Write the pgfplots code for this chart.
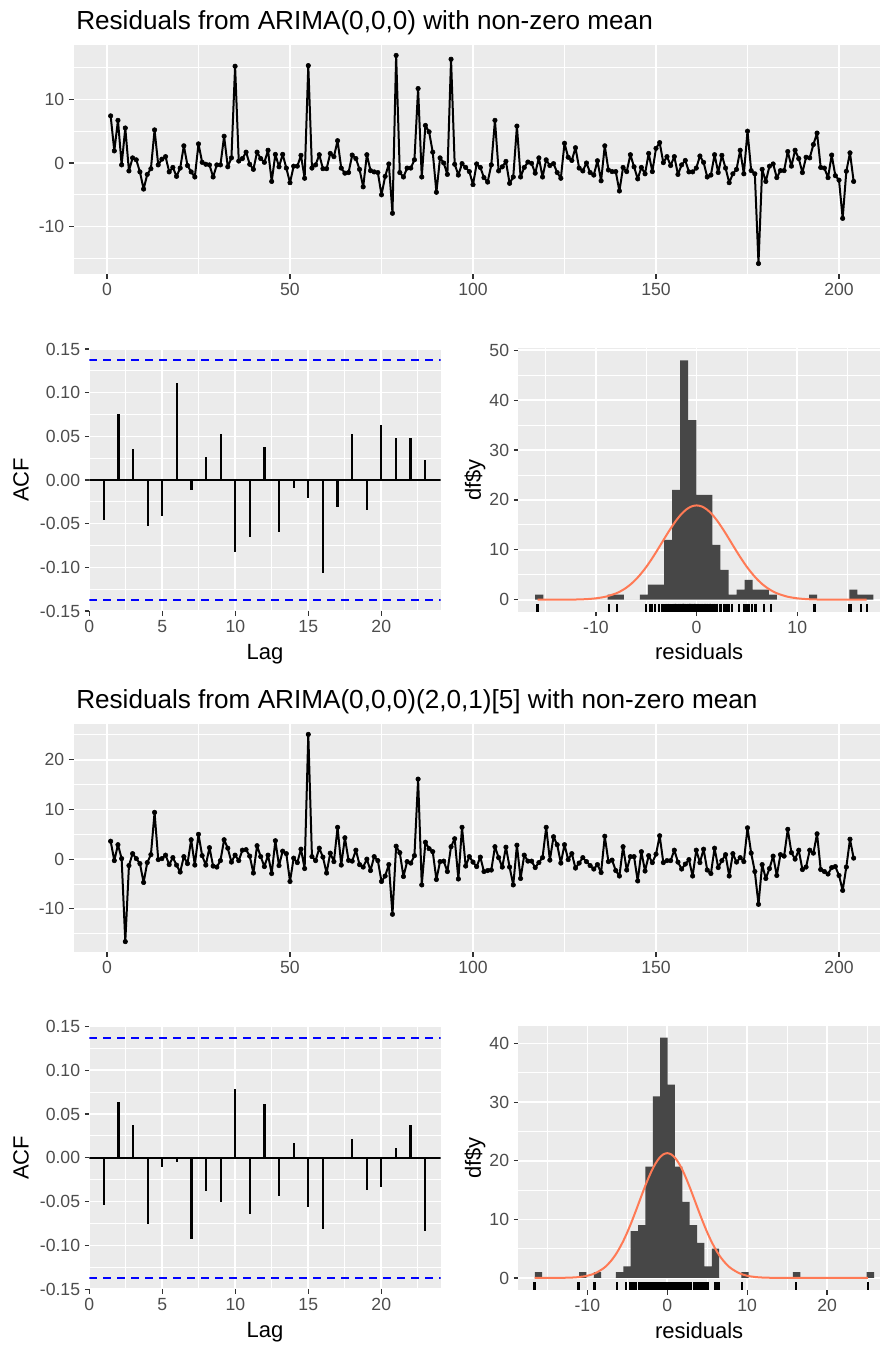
\documentclass[border=0pt]{standalone}
\usepackage{fontspec}
\setmainfont{Liberation Sans}
\usepackage{pgfplots}
\pgfplotsset{compat=1.18}
\usepackage{pgfplotstable}
\definecolor{ggbg}{HTML}{EBEBEB}
\definecolor{ggtext}{HTML}{4D4D4D}
\definecolor{ggtick}{HTML}{333333}
\definecolor{histfill}{HTML}{474747}
\definecolor{normline}{HTML}{FF7A55}
\definecolor{ciblue}{HTML}{0000FF}
\newcommand\ticksz{\fontsize{13.2}{15}\selectfont}
\newcommand\labsz{\fontsize{16.5}{19}\selectfont}
\newcommand\titsz{\fontsize{19.6}{22}\selectfont}

\pgfplotstableread{
t r
1 7.4
2 1.9
3 6.7
4 -0.3
5 5.5
6 -1.25
7 0.8
8 0.5
9 -1.4
10 -4.1
11 -1.8
12 -0.9
13 5.2
14 -0.3
15 0.6
16 1.0
17 -1.4
18 -0.7
19 -2.1
20 -0.8
21 2.7
22 -0.4
23 -1.4
24 -2.2
25 3.0
26 0.1
27 -0.2
28 -0.3
29 -2.2
30 -0.3
31 -0.3
32 4.2
33 -0.6
34 0.8
35 15.2
36 0.3
37 0.7
38 1.7
39 -0.2
40 -1.0
41 1.7
42 0.7
43 0.1
44 2.0
45 -2.9
46 1.35
47 -0.6
48 1.35
49 -0.8
50 -3.1
51 -0.5
52 -0.5
53 1.2
54 -2.4
55 15.3
56 -0.8
57 -0.3
58 1.3
59 -0.9
60 -0.9
61 1.5
62 1.0
63 3.5
64 -0.8
65 -1.6
66 -1.5
67 1.25
68 0.7
69 -1.0
70 -3.75
71 1.3
72 -1.2
73 -1.4
74 -1.5
75 -5.0
76 -2.1
77 -0.15
78 -7.9
79 16.9
80 -1.5
81 -2.2
82 -0.8
83 -0.8
84 0.5
85 11.7
86 -2.2
87 5.9
88 4.9
89 1.7
90 -4.6
91 0.8
92 0.0
93 -1.8
94 16.3
95 -0.2
96 -1.9
97 -0.1
98 -0.7
99 -1.35
100 -3.4
101 -0.15
102 -0.7
103 -2.3
104 -3.0
105 -0.3
106 6.7
107 -1.25
108 -0.6
109 0.25
110 -3.2
111 -2.2
112 5.8
113 -2.2
114 -0.7
115 0.15
116 -0.05
117 -1.6
118 0.8
119 -2.2
120 0.5
121 -0.4
122 -0.1
123 -1.5
124 -2.4
125 3.1
126 0.9
127 0.4
128 2.4
129 -0.8
130 -1.25
131 0.0
132 -1.5
133 -1.9
134 0.35
135 -2.8
136 2.7
137 -1.1
138 -1.35
139 -1.35
140 -4.4
141 -0.7
142 -1.35
143 1.3
144 -0.6
145 -2.5
146 -0.7
147 -1.7
148 1.5
149 -1.35
150 2.3
151 3.2
152 0.05
153 1.0
154 -0.4
155 1.0
156 -1.8
157 -0.3
158 0.4
159 -1.4
160 -1.4
161 -0.8
162 1.1
163 0.1
164 -2.2
165 -1.9
166 1.3
167 -1.5
168 1.2
169 -0.8
170 -3.1
171 -1.7
172 -1.0
173 2.0
174 -1.7
175 5.0
176 -1.2
177 -1.7
178 -15.8
179 -1.0
180 -2.9
181 -0.5
182 -0.15
183 -2.3
184 -1.2
185 -1.2
186 1.8
187 -0.5
188 2.0
189 0.7
190 -1.5
191 0.9
192 0.8
193 2.9
194 4.7
195 -0.7
196 -0.8
197 -2.3
198 1.25
199 -2.0
200 -2.7
201 -8.7
202 -1.3
203 1.6
204 -2.9
}\resA

\pgfplotstableread{
t r
1 3.6
2 -0.3
3 2.9
4 0.1
5 -16.6
6 -1.3
7 1.1
8 0.1
9 -0.9
10 -4.7
11 -0.7
12 0.9
13 9.4
14 -0.1
15 0.1
16 0.8
17 -1.1
18 0.3
19 -1.2
20 -2.6
21 0.5
22 -0.9
23 3.9
24 -1.2
25 5.0
26 0.7
27 -1.2
28 2.3
29 -1.4
30 -1.6
31 -0.3
32 3.9
33 2.2
34 -0.6
35 0.8
36 -0.3
37 1.8
38 1.9
39 0.6
40 -2.8
41 2.7
42 0.5
43 -1.5
44 0.8
45 -2.9
46 3.7
47 -1.3
48 1.6
49 1.1
50 -4.5
51 0.2
52 -0.7
53 2.0
54 -1.9
55 25.1
56 0.5
57 -0.3
58 2.2
59 0.4
60 -2.8
61 1.2
62 -0.5
63 6.4
64 -1.2
65 4.3
66 -0.25
67 -0.4
68 1.8
69 -1.1
70 -1.6
71 0.0
72 -2.3
73 0.5
74 -0.3
75 -4.5
76 -3.4
77 -1.1
78 -11.1
79 2.6
80 1.3
81 -3.5
82 -0.5
83 -0.8
84 0.7
85 16.1
86 -5.2
87 3.4
88 2.1
89 1.5
90 -4.1
91 -0.5
92 -0.4
93 -2.5
94 2.5
95 4.1
96 -4.0
97 6.4
98 -1.4
99 0.5
100 -0.6
101 -1.5
102 0.4
103 -2.5
104 -2.3
105 -2.2
106 2.5
107 0.3
108 -1.6
109 2.4
110 -1.6
111 -5.2
112 2.8
113 -3.9
114 0.8
115 -0.4
116 -0.4
117 -1.7
118 -0.7
119 0.3
120 6.4
121 -0.2
122 4.5
123 2.9
124 -0.8
125 2.9
126 -0.1
127 1.1
128 -1.8
129 -0.8
130 0.3
131 -0.5
132 -1.3
133 -2.0
134 -1.1
135 -2.7
136 4.6
137 -0.5
138 -0.2
139 -2.3
140 -3.4
141 2.5
142 -2.2
143 0.5
144 0.5
145 -4.4
146 1.5
147 -2.4
148 0.7
149 -0.7
150 1.0
151 4.7
152 -0.7
153 -0.3
154 -0.3
155 1.8
156 -0.6
157 -2.0
158 -1.0
159 -0.1
160 -3.4
161 1.8
162 -0.7
163 2.0
164 -2.2
165 -2.9
166 2.2
167 -1.7
168 -0.3
169 0.9
170 -3.4
171 1.1
172 -0.6
173 0.3
174 -0.5
175 6.3
176 1.2
177 -2.5
178 -9.1
179 -1.1
180 -3.9
181 -1.9
182 0.6
183 -3.3
184 0.9
185 0.6
186 6.0
187 1.3
188 0.0
189 1.8
190 -2.1
191 -1.6
192 1.8
193 1.2
194 5.1
195 -2.1
196 -2.5
197 -3.0
198 -1.7
199 -1.5
200 -3.3
201 -6.3
202 -1.6
203 4.0
204 0.2
}\resB

\pgfplotsset{
  gg/.style={
    scale only axis,
    anchor=south west,
    axis background/.style={fill=ggbg},
    axis line style={draw=none},
    grid=both,
    major grid style={white, line width=1.2pt},
    minor grid style={white, line width=0.6pt},
    tick align=outside,
    xtick pos=bottom, ytick pos=left,
    major tick length=3.4pt,
    minor tick length=0pt,
    every tick/.style={ggtick, line width=0.9pt},
    tick label style={font=\ticksz, text=ggtext},
    clip=true,
  },
  acf/.style={
    gg, xmin=0, xmax=24.07, ymin=-0.15, ymax=0.15,
    width=263.55pt,
    xtick={0,5,10,15,20}, xticklabels={0,5,10,15,20},
    minor xtick={2.5,7.5,12.5,17.5,22.5},
    ytick={-0.15,-0.10,-0.05,0,0.05,0.10,0.15},
    yticklabels={-0.15,-0.10,-0.05,0.00,0.05,0.10,0.15},
    minor ytick={-0.125,-0.075,-0.025,0.025,0.075,0.125},
    xlabel={Lag}, ylabel={ACF},
    every axis y label/.style={at={(axis description cs:-0.1944,0.5)}, rotate=90, anchor=center, font=\labsz, text=black},
    every axis x label/.style={at={(axis description cs:0.5,-0.185)}, anchor=base, font=\labsz, text=black},
  },
  hist/.style={
    gg, width=271.275pt,
    xlabel={residuals}, ylabel={df\$y},
    every axis y label/.style={at={(axis description cs:-0.1197,0.5)}, rotate=90, anchor=center, font=\labsz, text=black},
    every axis x label/.style={at={(axis description cs:0.5,-0.182)}, anchor=base, font=\labsz, text=black},
  },
  dashci/.style={draw=ciblue, solid, line width=1.5pt, dash pattern=on 6pt off 4.5pt, mark=none},
  acfbar/.style={ycomb, draw=black, line width=1.65pt, mark=none},
  tsline/.style={draw=black, line width=1.5pt, line join=round, line cap=round, mark=*, mark size=1.7pt, mark options={fill=black, draw=black, line width=0.4pt}},
  rug/.style={only marks, mark=|, mark size=2.96pt, mark options={draw=black, line width=1.7pt}},
}

\begin{document}
\begin{tikzpicture}
\useasboundingbox (0,0) rectangle (660pt,1008.75pt);
\fill[white] (0,0) rectangle (660pt,1008.75pt);

\node[anchor=base west, font=\titsz, inner sep=0pt] at (57pt,986.8pt) {Residuals from ARIMA(0,0,0) with non-zero mean};
\node[anchor=base west, font=\titsz, inner sep=0pt] at (57pt,477.5pt) {Residuals from ARIMA(0,0,0)(2,0,1)[5] with non-zero mean};

% ---------- top time series ----------
\begin{axis}[gg, at={(55.125pt,803.25pt)}, width=604.875pt, height=171.75pt,
  xmin=-9.15, xmax=211.2, ymin=-17.44, ymax=18.54,
  xtick={0,50,100,150,200}, xticklabels={0,50,100,150,200},
  minor xtick={25,75,125,175},
  ytick={-10,0,10}, yticklabels={-10,0,10},
  minor ytick={-15,-5,5,15}]
\addplot[tsline] table[x=t,y=r]{\resA};
\end{axis}

% ---------- top ACF ----------
\begin{axis}[acf, at={(66.975pt,550.5pt)}, height=196.5pt]
\addplot[dashci] coordinates {(0,0.1372) (24.07,0.1372)};
\addplot[dashci] coordinates {(0,-0.1372) (24.07,-0.1372)};
\addplot[draw=black, line width=1.5pt, mark=none] coordinates {(0,0) (24.07,0)};
\addplot[acfbar] coordinates {
(1,-0.046) (2,0.075) (3,0.036) (4,-0.053) (5,-0.041) (6,0.111) (7,-0.011) (8,0.026)
(9,0.053) (10,-0.082) (11,-0.065) (12,0.038) (13,-0.059) (14,-0.009) (15,-0.021)
(16,-0.107) (17,-0.031) (18,0.053) (19,-0.034) (20,0.063) (21,0.048) (22,0.048) (23,0.023)};
\end{axis}

% ---------- top histogram ----------
\begin{axis}[hist, at={(388.725pt,549.98pt)}, height=197.55pt,
  xmin=-17.71, xmax=18.22, ymin=-2.4, ymax=50.4,
  xtick={-10,0,10}, xticklabels={-10,0,10}, minor xtick={-15,-5,5,15},
  ytick={0,10,20,30,40,50}, yticklabels={0,10,20,30,40,50},
  minor ytick={5,15,25,35,45}]
\addplot[ybar interval, fill=histfill, draw=none] coordinates {
(-16.03,1) (-15.23,0) (-14.43,0) (-13.63,0) (-12.83,0) (-12.03,0) (-11.23,0) (-10.43,0)
(-9.63,0) (-8.83,1) (-8.03,1) (-7.23,0) (-6.43,0) (-5.63,1) (-4.83,3) (-4.03,3)
(-3.23,12) (-2.43,22) (-1.63,48) (-0.83,36) (-0.03,21) (0.77,21) (1.57,11) (2.37,6)
(3.17,1) (3.97,2) (4.77,4) (5.57,2) (6.37,2) (7.17,1) (7.97,0) (8.77,0) (9.57,0)
(10.37,0) (11.17,1) (11.97,0) (12.77,0) (13.57,0) (14.37,0) (15.17,2) (15.97,1)
(16.77,1) (17.57,1)};
\addplot[draw=normline, line width=1.5pt, smooth, mark=none] coordinates {
(-15.8,0) (-14,0.005) (-12,0.04) (-11,0.11) (-10,0.28) (-9,0.62) (-8,1.27) (-7.5,1.76)
(-7,2.38) (-6.5,3.17) (-6,4.13) (-5.5,5.27) (-5,6.57) (-4.5,8.03) (-4,9.61) (-3.5,11.26)
(-3,12.92) (-2.5,14.51) (-2,15.96) (-1.5,17.19) (-1,18.12) (-0.5,18.70) (0,18.90)
(0.5,18.70) (1,18.12) (1.5,17.19) (2,15.96) (2.5,14.51) (3,12.92) (3.5,11.26) (4,9.61)
(4.5,8.03) (5,6.57) (5.5,5.27) (6,4.13) (6.5,3.17) (7,2.38) (7.5,1.76) (8,1.27) (9,0.62)
(10,0.28) (11,0.11) (12,0.04) (14,0.005) (16.9,0)};
\addplot[rug] table[x=r, y expr=-1.61]{\resA};
\end{axis}

% ---------- bottom time series ----------
\begin{axis}[gg, at={(55.125pt,294.75pt)}, width=604.875pt, height=171pt,
  xmin=-9.15, xmax=211.2, ymin=-18.69, ymax=27.19,
  xtick={0,50,100,150,200}, xticklabels={0,50,100,150,200},
  minor xtick={25,75,125,175},
  ytick={-10,0,10,20}, yticklabels={-10,0,10,20},
  minor ytick={-15,-5,5,15,25}]
\addplot[tsline] table[x=t,y=r]{\resB};
\end{axis}

% ---------- bottom ACF ----------
\begin{axis}[acf, at={(66.975pt,41.775pt)}, height=197.25pt]
\addplot[dashci] coordinates {(0,0.1372) (24.07,0.1372)};
\addplot[dashci] coordinates {(0,-0.1372) (24.07,-0.1372)};
\addplot[draw=black, line width=1.5pt, mark=none] coordinates {(0,0) (24.07,0)};
\addplot[acfbar] coordinates {
(1,-0.054) (2,0.064) (3,0.037) (4,-0.075) (5,-0.011) (6,-0.005) (7,-0.093) (8,-0.038)
(9,-0.050) (10,0.078) (11,-0.064) (12,0.061) (13,-0.044) (14,0.017) (15,-0.056)
(16,-0.081) (17,0.001) (18,0.022) (19,-0.037) (20,-0.033) (21,0.011) (22,0.037) (23,-0.084)};
\end{axis}

% ---------- bottom histogram ----------
\begin{axis}[hist, at={(388.725pt,41.25pt)}, height=198.225pt,
  xmin=-18.64, xmax=26.63, ymin=-2.05, ymax=43.05,
  xtick={-10,0,10,20}, xticklabels={-10,0,10,20}, minor xtick={-15,-5,5,15,25},
  ytick={0,10,20,30,40}, yticklabels={0,10,20,30,40},
  minor ytick={5,15,25,35}]
\addplot[ybar interval, fill=histfill, draw=none] coordinates {
(-16.574,1) (-15.651,0) (-14.728,0) (-13.805,0) (-12.882,0) (-11.959,0) (-11.036,1)
(-10.113,0) (-9.19,1) (-8.267,0) (-7.344,0) (-6.421,1) (-5.498,2) (-4.575,8) (-3.652,9)
(-2.729,19) (-1.806,31) (-0.883,41) (0.04,33) (0.963,19) (1.886,13) (2.809,9) (3.732,6)
(4.655,2) (5.578,5) (6.501,0) (7.424,0) (8.347,0) (9.27,1) (10.193,0) (11.116,0)
(12.039,0) (12.962,0) (13.885,0) (14.808,0) (15.731,1) (16.654,0) (17.577,0) (18.5,0)
(19.423,0) (20.346,0) (21.269,0) (22.192,0) (23.115,0) (24.038,0) (24.961,1) (25.884,1)};
\addplot[draw=normline, line width=1.5pt, smooth, mark=none] coordinates {
(-16.6,0) (-14,0.01) (-12,0.07) (-11,0.17) (-10,0.38) (-9,0.82) (-8,1.63) (-7.5,2.23)
(-7,2.98) (-6.5,3.90) (-6,5.02) (-5.5,6.32) (-5,7.80) (-4.5,9.44) (-4,11.20) (-3.5,13.02)
(-3,14.84) (-2.5,16.57) (-2,18.14) (-1.5,19.46) (-1,20.46) (-0.5,21.09) (0,21.30)
(0.5,21.09) (1,20.46) (1.5,19.46) (2,18.14) (2.5,16.57) (3,14.84) (3.5,13.02) (4,11.20)
(4.5,9.44) (5,7.80) (5.5,6.32) (6,5.02) (6.5,3.90) (7,2.98) (7.5,2.23) (8,1.63) (9,0.82)
(10,0.38) (11,0.17) (12,0.07) (14,0.01) (16,0) (25.1,0)};
\addplot[rug] table[x=r, y expr=-1.375]{\resB};
\end{axis}
\end{tikzpicture}
\end{document}
